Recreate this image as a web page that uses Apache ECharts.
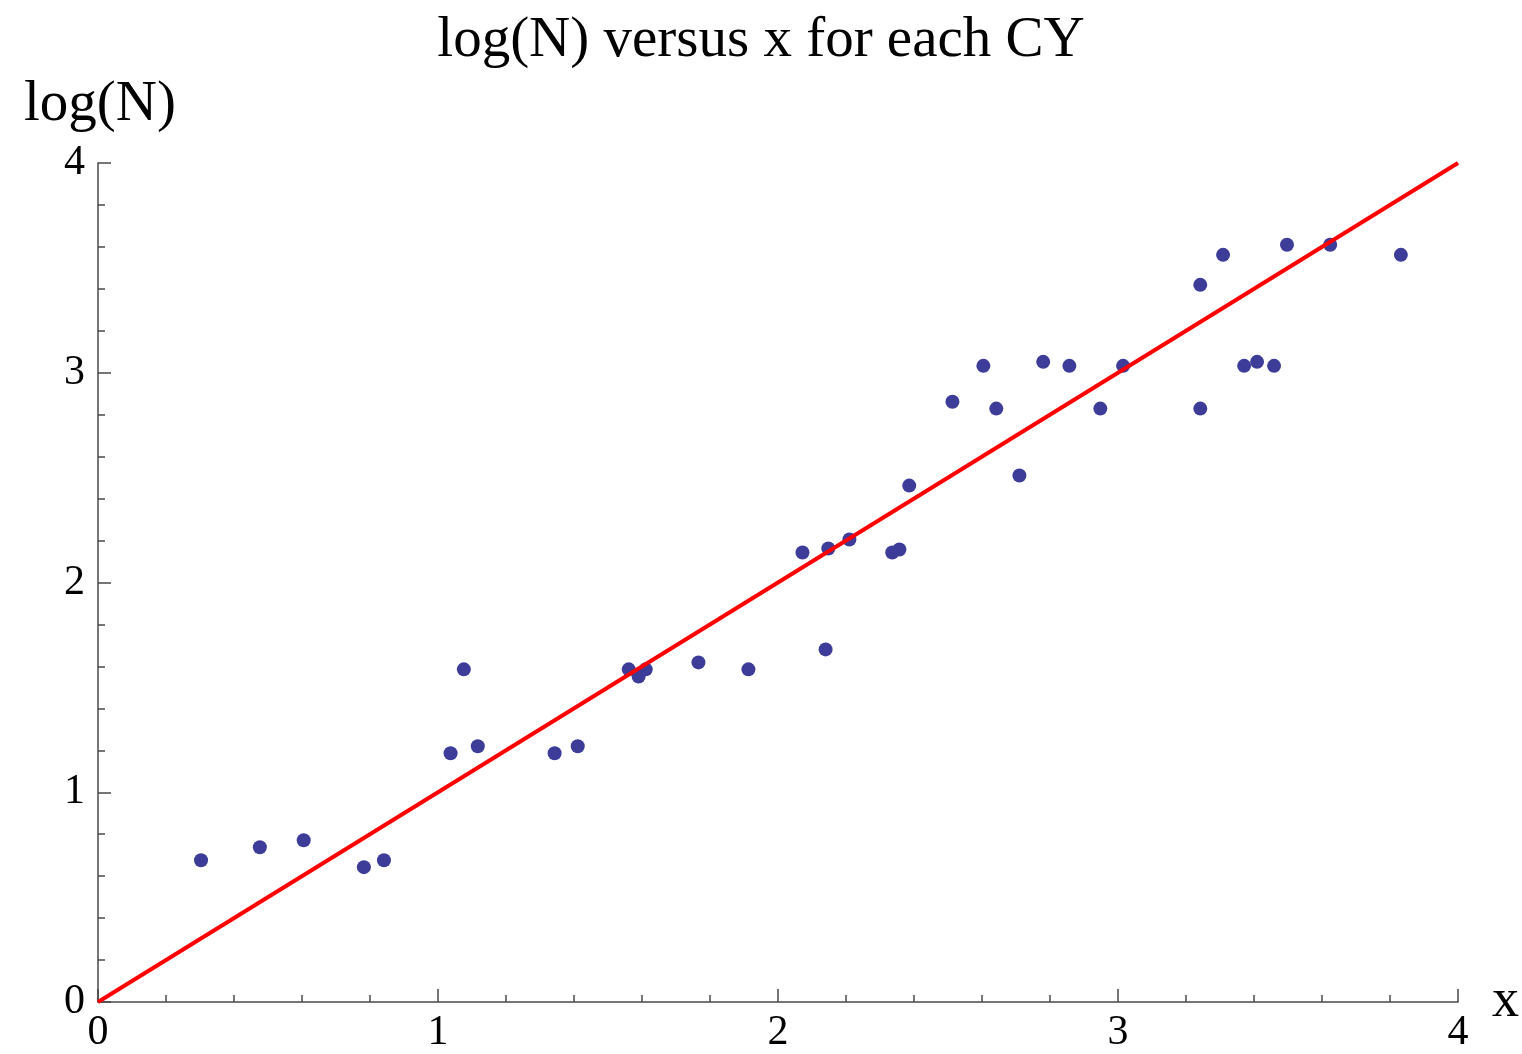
<!DOCTYPE html>
<html><head><meta charset="utf-8">
<script src="https://cdn.jsdelivr.net/npm/echarts@6/dist/echarts.min.js"></script>
<style>html,body{margin:0;padding:0;background:#fff}#c{width:1522px;height:1054px}</style>
</head><body><div id="c"></div>
<script>
const xValues = [0.303,0.476,0.605,0.782,0.841,1.037,1.076,1.117,1.343,1.411,1.561,1.590,1.611,1.766,1.913,2.072,2.140,2.148,2.210,2.336,2.357,2.386,2.513,2.604,2.642,2.710,2.780,2.857,2.948,3.015,3.242,3.242,3.309,3.371,3.409,3.459,3.497,3.624,3.832];
const yValues = [0.676,0.738,0.771,0.643,0.676,1.186,1.586,1.219,1.186,1.219,1.586,1.552,1.586,1.619,1.586,2.143,1.681,2.162,2.205,2.143,2.157,2.462,2.862,3.033,2.829,2.510,3.052,3.033,2.829,3.033,3.419,2.829,3.562,3.033,3.052,3.033,3.610,3.610,3.562];
const fitLine = [[0,0],[4,4]];
const xTicks = [0,1,2,3,4];
const yTicks = [0,1,2,3,4];

const points = xValues.map((x,i)=>[x,yValues[i]]);
const serif = 'Liberation Serif';
const axisCol = '#4a4a4a';
const chart = echarts.init(document.getElementById('c'));
chart.setOption({
  animation:false,
  title:[
    {text:'log(N) versus x for each CY', left:'center', top:8, textStyle:{fontFamily:serif,fontWeight:'normal',fontSize:57,color:'#000'}},
    {text:'log(N)', left:19, top:72, textStyle:{fontFamily:serif,fontWeight:'normal',fontSize:57,color:'#000'}}
  ],
  grid:{left:98,right:63,top:163,bottom:51,containLabel:false},
  xAxis:{type:'value',min:0,max:4,interval:1,splitNumber:4,
    name:'x',nameLocation:'end',nameGap:34,
    nameTextStyle:{fontFamily:serif,fontSize:54,color:'#000',verticalAlign:'middle'},
    axisLine:{show:true,onZero:false,lineStyle:{color:axisCol,width:1.5}},
    axisTick:{show:true,inside:true,length:13,lineStyle:{color:axisCol,width:1.5}},
    minorTick:{show:true,splitNumber:5,length:7,lineStyle:{color:axisCol,width:1.5}},
    splitLine:{show:false},
    axisLabel:{fontFamily:serif,fontSize:42,color:'#000',margin:10,formatter:v=>xTicks.includes(v)?String(v):''}
  },
  yAxis:{type:'value',min:0,max:4,interval:1,
    axisLine:{show:true,onZero:false,lineStyle:{color:axisCol,width:1.5}},
    axisTick:{show:true,inside:true,length:13,lineStyle:{color:axisCol,width:1.5}},
    minorTick:{show:true,splitNumber:5,length:7,lineStyle:{color:axisCol,width:1.5}},
    splitLine:{show:false},
    axisLabel:{fontFamily:serif,fontSize:42,color:'#000',margin:13,formatter:v=>yTicks.includes(v)?String(v):''}
  },
  series:[
    {type:'scatter',data:points,symbol:'circle',symbolSize:14,itemStyle:{color:'#3d3d99',opacity:1},z:3},
    {type:'line',data:fitLine,showSymbol:false,symbol:'none',lineStyle:{color:'#ff0000',width:4},z:4}
  ]
});
</script></body></html>
